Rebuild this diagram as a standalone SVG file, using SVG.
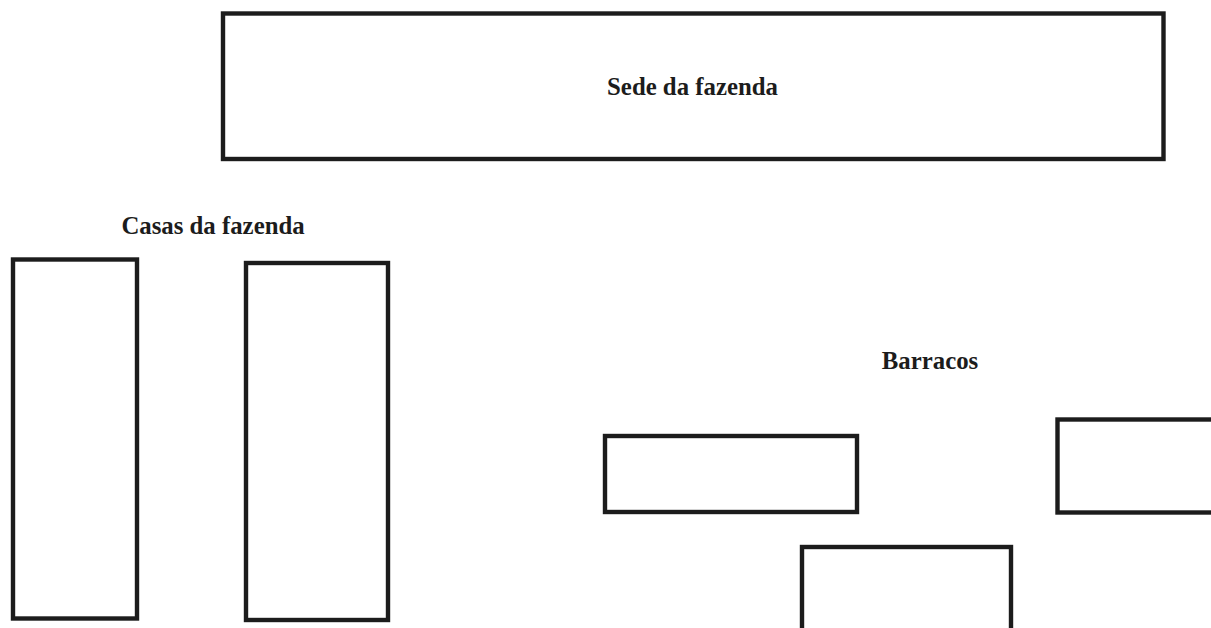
<svg xmlns="http://www.w3.org/2000/svg" width="1211" height="628" viewBox="0 0 1211 628">
<style>
.b{fill:#ffffff;stroke:#1c1c1c;stroke-width:4.4}
.t{font-family:"Liberation Serif","Times New Roman",serif;font-weight:bold;font-size:24.8px;fill:#1c1c1c;text-anchor:middle}
</style>
<rect width="1211" height="628" fill="#ffffff"/>
<g id="sede">
<rect class="b" x="223" y="13.5" width="940.5" height="145.5"/>
<text class="t" x="692.5" y="95">Sede da fazenda</text>
</g>
<g id="casas">
<text class="t" x="213" y="234">Casas da fazenda</text>
<rect class="b" x="13" y="259.5" width="124" height="359"/>
<rect class="b" x="246" y="263" width="142" height="357"/>
</g>
<g id="barracos">
<text class="t" x="930" y="369">Barracos</text>
<rect class="b" x="605" y="436" width="252" height="76"/>
<rect class="b" x="802" y="547" width="209" height="100"/>
<rect class="b" x="1057.5" y="419.5" width="170" height="93"/>
</g>
<g id="connectors"></g>
</svg>
